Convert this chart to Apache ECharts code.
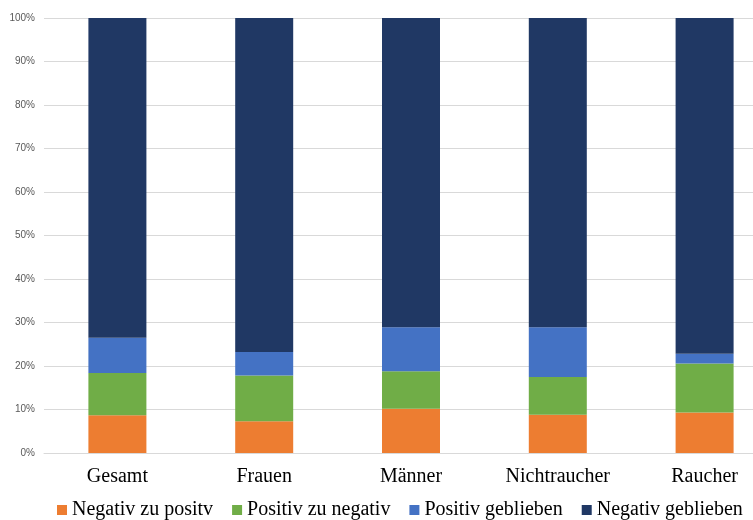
<!DOCTYPE html>
<html>
<head>
<meta charset="utf-8">
<script src="https://cdn.jsdelivr.net/npm/echarts@6/dist/echarts.min.js"></script>
<style>
  html, body { margin: 0; padding: 0; background: #fff; }
  #chart { width: 753px; height: 520px; }
</style>
</head>
<body>
<div id="chart"></div>
<script>
// Groups along the x axis
const categories = ['Gesamt', 'Frauen', 'Männer', 'Nichtraucher', 'Raucher'];

// Share of each transition per group, in percent
const negativZuPositiv = [8.7, 7.3, 10.2, 8.8, 9.3];
const positivZuNegativ = [9.7, 10.5, 8.6, 8.7, 11.3];
const positivGeblieben = [8.1, 5.4, 10.1, 11.4, 2.2];
const negativGeblieben = [73.5, 76.8, 71.1, 71.1, 77.2];

const seriesNames = ['Negativ zu positv', 'Positiv zu negativ', 'Positiv geblieben', 'Negativ geblieben'];
const seriesValues = [negativZuPositiv, positivZuNegativ, positivGeblieben, negativGeblieben];
const seriesColors = ['#ED7D31', '#70AD47', '#4472C4', '#203864'];

const serif = '"Liberation Serif", "Times New Roman", serif';

const chart = echarts.init(document.getElementById('chart'));
chart.setOption({
  animation: false,
  // plot area runs past the right edge of the canvas
  grid: { left: 44, width: 734, top: 18, height: 435, outerBoundsMode: 'none', containLabel: false },
  legend: {
    top: 495,
    left: 52,
    itemWidth: 10,
    itemHeight: 10,
    itemGap: 19,
    icon: 'rect',
    textStyle: { fontFamily: serif, fontSize: 20, color: '#000' },
    data: seriesNames
  },
  xAxis: {
    type: 'category',
    data: categories,
    axisLine: { show: true, lineStyle: { color: '#D9D9D9', width: 1 } },
    axisTick: { show: false },
    axisLabel: { fontFamily: serif, fontSize: 20, color: '#000', margin: 14 }
  },
  yAxis: {
    type: 'value',
    min: 0,
    max: 100,
    interval: 10,
    axisLine: { show: false },
    axisTick: { show: false },
    splitLine: { lineStyle: { color: '#D9D9D9', width: 1 } },
    axisLabel: {
      formatter: '{value}%',
      fontFamily: '"Liberation Sans", Arial, sans-serif',
      fontSize: 10,
      color: '#595959',
      margin: 9
    }
  },
  series: seriesNames.map((name, i) => ({
    name: name,
    type: 'bar',
    stack: 'total',
    barWidth: 58,
    itemStyle: { color: seriesColors[i] },
    data: seriesValues[i]
  }))
});
</script>
</body>
</html>
